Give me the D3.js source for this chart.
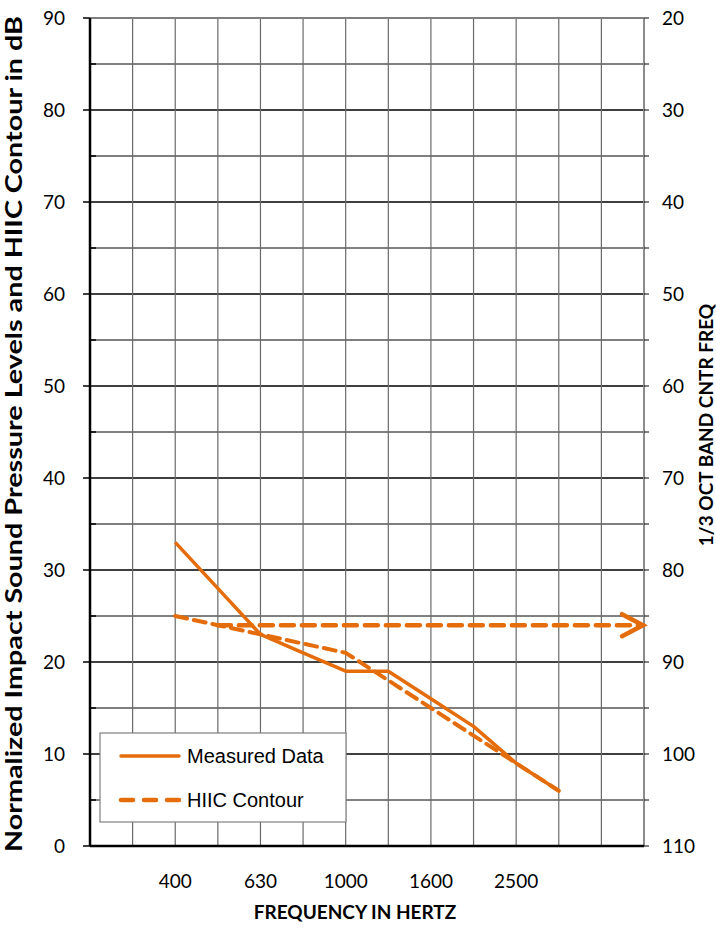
<!DOCTYPE html>
<html>
<head>
<meta charset="utf-8">
<script src="https://cdn.jsdelivr.net/npm/d3@7"></script>
<style>
  body { margin: 0; background: #fff; }
  .tick-label { font-family: Lato, 'Open Sans', sans-serif; font-size: 19px; fill: #000; }
  .axis-title { font-family: Lato, 'Open Sans', sans-serif; font-size: 19px; font-weight: bold; fill: #000; }
  .legend-text { font-family: 'Liberation Sans', Arial, sans-serif; font-size: 20px; fill: #000; }
</style>
</head>
<body>
<div id="chart"></div>
<script>
// 1/3 octave band centre frequencies (one per vertical gridline)
const bands = ['250', '315', '400', '500', '630', '800', '1000', '1250', '1600', '2000', '2500', '3150', '4000', '5000'];
const shownBands = ['400', '630', '1000', '1600', '2500'];

const measuredBands = ['400', '500', '630', '800', '1000', '1250', '1600', '2000', '2500', '3150'];
const measuredValues = [33, 28, 23, 21, 19, 19, 16, 13, 9, 6];

const contourBands = ['400', '500', '630', '800', '1000', '1250', '1600', '2000', '2500', '3150'];
const contourValues = [25, 24, 23, 22, 21, 18, 15, 12, 9, 6];

// horizontal arrow, read on the right axis
const arrowStart = '500';
const arrowEnd = '5000';
const arrowRightValue = 86;

const leftTicks = [0, 10, 20, 30, 40, 50, 60, 70, 80, 90];
const rightTicks = [20, 30, 40, 50, 60, 70, 80, 90, 100, 110];

const width = 716, height = 929;
const margin = {left: 90, top: 18, right: 72, bottom: 83};
const plotW = width - margin.left - margin.right;
const plotH = height - margin.top - margin.bottom;
const orange = '#E46C0A';

const svg = d3.select('#chart').append('svg')
    .attr('width', width)
    .attr('height', height);

const g = svg.append('g')
    .attr('transform', 'translate(' + margin.left + ',' + margin.top + ')');

let x = d3.scalePoint().domain(bands).range([0, plotW]);
let y = d3.scaleLinear().domain([0, 90]).range([plotH, 0]);
let yRight = d3.scaleLinear().domain([20, 110]).range([0, plotH]);

// horizontal gridlines every 5
g.selectAll('.hgrid')
    .data(d3.range(5, 90, 5))
    .enter().append('line')
    .attr('class', 'hgrid')
    .attr('x1', 0).attr('x2', plotW)
    .attr('y1', d => y(d)).attr('y2', d => y(d))
    .attr('stroke', '#000')
    .attr('stroke-width', d => d % 10 === 0 ? 1.6 : 1);

// vertical gridlines, one per band
g.selectAll('.vgrid')
    .data(bands.slice(1, bands.length - 1))
    .enter().append('line')
    .attr('class', 'vgrid')
    .attr('x1', d => x(d)).attr('x2', d => x(d))
    .attr('y1', 0).attr('y2', plotH)
    .attr('stroke', '#6a6a6a')
    .attr('stroke-width', 1.2);

// top and right borders (grey)
g.append('line').attr('x1', 0).attr('x2', plotW).attr('y1', 0).attr('y2', 0)
    .attr('stroke', '#7f7f7f').attr('stroke-width', 2);
g.append('line').attr('x1', plotW).attr('x2', plotW).attr('y1', 0).attr('y2', plotH)
    .attr('stroke', '#8c8c8c').attr('stroke-width', 2);

// right axis ticks
g.selectAll('.rtick')
    .data(d3.range(20, 111, 5))
    .enter().append('line')
    .attr('x1', plotW).attr('x2', plotW + 5)
    .attr('y1', d => yRight(d)).attr('y2', d => yRight(d))
    .attr('stroke', '#000').attr('stroke-width', 1);

// left axis
g.selectAll('.ltick')
    .data(d3.range(0, 91, 5))
    .enter().append('line')
    .attr('x1', d => d % 10 === 0 ? -7 : 0).attr('x2', d => d % 10 === 0 ? 0 : 6)
    .attr('y1', d => y(d)).attr('y2', d => y(d))
    .attr('stroke', '#000').attr('stroke-width', 1.5);
g.append('line').attr('x1', 0).attr('x2', 0).attr('y1', 0).attr('y2', plotH)
    .attr('stroke', '#000').attr('stroke-width', 2.5);
g.append('line').attr('x1', 0).attr('x2', plotW).attr('y1', plotH).attr('y2', plotH)
    .attr('stroke', '#000').attr('stroke-width', 2.5);

g.selectAll('.ylabel')
    .data(leftTicks)
    .enter().append('text')
    .attr('class', 'tick-label')
    .attr('x', -25)
    .attr('y', d => y(d))
    .attr('dy', '.35em')
    .attr('text-anchor', 'end')
    .text(d => d);

g.selectAll('.rlabel')
    .data(rightTicks)
    .enter().append('text')
    .attr('class', 'tick-label')
    .attr('x', plotW + 18)
    .attr('y', d => yRight(d))
    .attr('dy', '.35em')
    .attr('text-anchor', 'start')
    .text(d => d);

g.selectAll('.xlabel')
    .data(shownBands)
    .enter().append('text')
    .attr('class', 'tick-label')
    .attr('x', d => x(d))
    .attr('y', plotH + 42)
    .attr('text-anchor', 'middle')
    .text(d => d);

// axis titles
svg.append('text')
    .attr('class', 'axis-title')
    .style('font-size', '22px')
    .attr('transform', 'translate(22,' + (margin.top + plotH / 2 + 2) + ')rotate(-90)')
    .attr('text-anchor', 'middle')
    .attr('textLength', 836)
    .attr('lengthAdjust', 'spacingAndGlyphs')
    .text('Normalized Impact Sound Pressure Levels and HIIC Contour in dB');

svg.append('text')
    .attr('class', 'axis-title')
    .attr('transform', 'translate(713,' + 425 + ')rotate(-90)')
    .attr('text-anchor', 'middle')
    .text('1/3 OCT BAND CNTR FREQ');

svg.append('text')
    .attr('class', 'axis-title')
    .attr('x', 355)
    .attr('y', 919)
    .attr('text-anchor', 'middle')
    .text('FREQUENCY IN HERTZ');

// series
let line = d3.line().x(d => x(d[0])).y(d => y(d[1]));

g.append('path')
    .datum(d3.zip(contourBands, contourValues))
    .attr('d', line)
    .attr('fill', 'none')
    .attr('stroke', orange)
    .attr('stroke-width', 4)
    .attr('stroke-dasharray', '12,7')
    .attr('stroke-linecap', 'round');

g.append('path')
    .datum(d3.zip(measuredBands, measuredValues))
    .attr('d', line)
    .attr('fill', 'none')
    .attr('stroke', orange)
    .attr('stroke-width', 3.5)
    .attr('stroke-linejoin', 'round');

// horizontal arrow
let ay = yRight(arrowRightValue);
g.append('line')
    .attr('x1', x(arrowStart)).attr('x2', x(arrowEnd) - 4)
    .attr('y1', ay).attr('y2', ay)
    .attr('stroke', orange)
    .attr('stroke-width', 4.5)
    .attr('stroke-dasharray', '13,8')
    .attr('stroke-linecap', 'round');
g.append('path')
    .attr('d', 'M' + (x(arrowEnd) - 22) + ',' + (ay - 11) + 'L' + (x(arrowEnd) - 1) + ',' + ay + 'L' + (x(arrowEnd) - 22) + ',' + (ay + 11))
    .attr('fill', 'none')
    .attr('stroke', orange)
    .attr('stroke-width', 4.5)
    .attr('stroke-linecap', 'round')
    .attr('stroke-linejoin', 'miter');

// legend
const legend = svg.append('g').attr('transform', 'translate(100,733)');
legend.append('rect')
    .attr('width', 246).attr('height', 89)
    .attr('fill', '#fff')
    .attr('stroke', '#7f7f7f')
    .attr('stroke-width', 1.2);
legend.append('line')
    .attr('x1', 21).attr('x2', 79).attr('y1', 23).attr('y2', 23)
    .attr('stroke', orange).attr('stroke-width', 3.5).attr('stroke-linecap', 'round');
legend.append('line')
    .attr('x1', 21).attr('x2', 79).attr('y1', 67).attr('y2', 67)
    .attr('stroke', orange).attr('stroke-width', 4.5).attr('stroke-linecap', 'round')
    .attr('stroke-dasharray', '12,11');
legend.append('text').attr('class', 'legend-text').attr('x', 87).attr('y', 23).attr('dy', '.35em').text('Measured Data');
legend.append('text').attr('class', 'legend-text').attr('x', 87).attr('y', 67).attr('dy', '.35em').text('HIIC Contour');
</script>
</body>
</html>
